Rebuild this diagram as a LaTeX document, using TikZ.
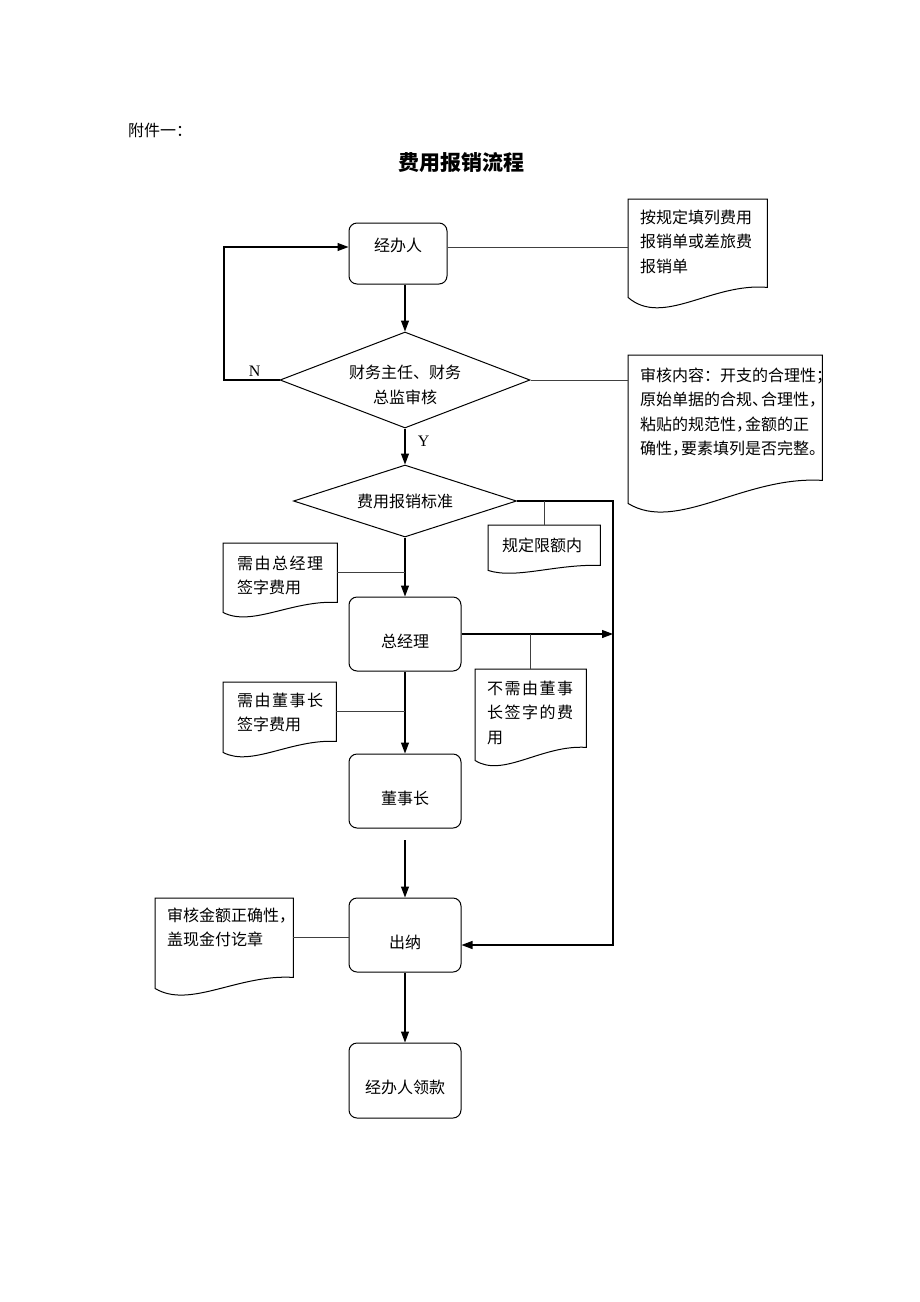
\documentclass[tikz,border=0pt]{standalone}
\usepackage{fontspec}
\setmainfont{Noto Sans CJK SC}
\newfontfamily\latinfont{Liberation Serif}
\usetikzlibrary{shapes.geometric,arrows.meta,calc}
\tikzstyle{block} = [rectangle, draw, line width=1pt, rounded corners=8pt,
    minimum width=112pt, minimum height=74pt, inner sep=0pt,
    text height=28pt, text depth=2pt]
\tikzstyle{decision} = [diamond, draw, line width=1pt, inner sep=0pt, align=center]
\tikzstyle{doc} = [anchor=north west, inner ysep=0pt, align=left]
\tikzstyle{line} = [draw, line width=1.1pt, -{Triangle[length=11pt,width=8pt]}]
\tikzstyle{link} = [draw, line width=0.9pt, black!75]
% paper sheet with wavy lower edge: node, drop of left corner, depth of wave
\newcommand{\docoutline}[3]{%
  \draw[line width=1pt] (#1.north west) -- (#1.north east) -- (#1.south east)
    .. controls ($(#1.south west)!0.6!(#1.south east)+(0,-0.5*#3)$)
    and ($(#1.south west)!0.25!(#1.south east)+(0,#2+3*#3)$)
    .. ($(#1.south west)+(0,#2)$) -- cycle;}
% evenly spread line of characters
\newcommand{\wideline}[2]{\makebox[#1][s]{\spaceskip=0pt plus 1fil #2}}

\begin{document}
\begin{tikzpicture}[x=1pt, y=-1pt, font=\fontsize{16}{24.5}\selectfont]
  \useasboundingbox (0,0) rectangle (920,1302);
  \node [anchor=west, inner sep=0pt] (fujian) at (128,130) {附件一：};
  \node [font=\fontsize{21}{25}\selectfont\bfseries] (title) at (461,163) {费用报销流程};
  % main column
  \node [block, minimum width=98pt, minimum height=61pt, text height=12pt, text depth=17pt] (jbr) at (398,253.5) {经办人};
  \node [decision, minimum width=250pt, minimum height=96pt, aspect=2.6, text height=48.5pt, text depth=2pt] (sh) at (405,380) {财务主任、财务\\总监审核};
  \node [decision, minimum width=223pt, minimum height=72pt, aspect=3.1, below of=sh, node distance=121pt] (bz) {费用报销标准};
  \node [block, below of=bz, node distance=133pt] (zjl) {总经理};
  \node [block, below of=zjl, node distance=157pt] (dsz) {董事长};
  \node [block, below of=dsz, node distance=144pt] (cn) {出纳};
  \node [block, below of=cn, node distance=145.5pt, minimum height=75pt] (lk) {经办人领款};
  % notes
  \node [doc, text width=115pt, inner xsep=12pt, text height=24pt, text depth=64pt] (tianbiao) at (628,199) {按规定填列费用\\报销单或差旅费\\报销单};
  \node [doc, text width=170pt, inner xsep=12pt, text height=26pt, text depth=99pt] (neirong) at (628,355) {审核内容：开支的合理性；\\原始单据的合规、\kern-.45em合理性，\\粘贴的规范性，\kern-.45em金额的正\\确性，\kern-.45em要素填列是否完整。};
  \node [doc, text width=84pt, inner xsep=14pt, text height=26pt, text depth=14pt] (xiane) at (488,525) {规定限额内};
  \node [doc, text width=86pt, inner xsep=14pt, text height=26pt, text depth=33pt] (zjlqz) at (223,543) {\wideline{86pt}{需 由 总 经 理}\\签字费用};
  \node [doc, text width=87pt, inner xsep=12pt, text height=25pt, text depth=53pt] (buxu) at (475,669) {\wideline{86pt}{不 需 由 董 事}\\\wideline{86pt}{长 签 字 的 费}\\用};
  \node [doc, text width=85pt, inner xsep=14pt, text height=24pt, text depth=35pt] (dszqz) at (223,682) {\wideline{86pt}{需 由 董 事 长}\\签字费用};
  \node [doc, text width=114pt, inner xsep=12pt, text height=23pt, text depth=56pt] (gaizhang) at (155,898) {审核金额正确性，\\盖现金付讫章};
  \docoutline{tianbiao}{10}{10}
  \docoutline{neirong}{23}{10}
  \docoutline{xiane}{5}{3}
  \docoutline{zjlqz}{10}{5}
  \docoutline{buxu}{13}{6}
  \docoutline{dszqz}{11}{5}
  \docoutline{gaizhang}{11}{7}
  \coordinate (back) at (224,247);
  \coordinate (side) at (613,945);
  \coordinate (gap) at (405,840);
  % connectors
  \path [line] (jbr.south -| sh.north) -- (sh.north);
  \path [line] (sh.west) -- node[above, pos=0.45, font=\latinfont\fontsize{16}{18}\selectfont]{N} (sh.west -| back) -- (back) -- (back -| jbr.west);
  \path [line] (sh.south) -- node[right=9pt, pos=0.35, font=\latinfont\fontsize{16}{18}\selectfont]{Y} (bz.north);
  \path [line] (bz.south) -- (zjl.north);
  \path [line] (bz.east) -| (side) -- (side -| cn.east);
  \path [line] (zjl.east) -- (zjl.east -| side);
  \path [line] (zjl.south) -- (dsz.north);
  \path [line] (gap) -- (cn.north);
  \path [line] (cn.south) -- (lk.north);
  \path [link] (back -| jbr.east) -- (back -| tianbiao.west);
  \path [link] (sh.east) -- (sh.east -| neirong.west);
  \path [link] (xiane.north) -- (xiane.north |- bz.east);
  \path [link] (zjlqz.east) -- (zjlqz.east -| zjl.north);
  \path [link] (buxu.north) -- (buxu.north |- zjl.east);
  \path [link] (dszqz.east) -- (dszqz.east -| dsz.north);
  \path [link] (gaizhang.east) -- (gaizhang.east -| cn.west);
\end{tikzpicture}
\end{document}
